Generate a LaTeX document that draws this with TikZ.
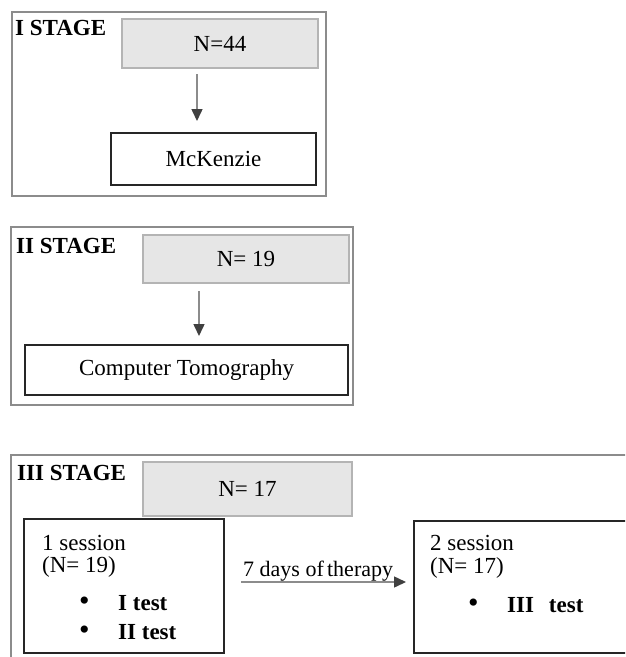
\documentclass[tikz,border=0pt]{standalone}
\usepackage{fontspec}
\setmainfont{Liberation Serif}
\usepackage{tikz}
\usetikzlibrary{arrows.meta}
\definecolor{framegray}{HTML}{8C8C8C}
\definecolor{boxfill}{HTML}{E6E6E6}
\definecolor{boxline}{HTML}{B4B4B4}
\definecolor{headgray}{HTML}{404040}
\newcommand{\txt}{\fontsize{23}{27}\selectfont}
\newcommand{\bul}{{\fontsize{30}{30}\selectfont\textbullet}}
\tikzstyle{frame} = [draw=framegray,line width=2pt,inner sep=0pt]
\tikzstyle{nbox} = [draw=boxline,fill=boxfill,line width=2pt,inner sep=0pt]
\tikzstyle{wbox} = [draw=black!85,line width=2pt,inner sep=0pt]
\tikzstyle{arrow} = [draw=framegray,line width=1.5pt,-{Triangle[length=12pt,width=11pt,color=headgray]}]
\tikzstyle{stage} = [anchor=base west,inner sep=0pt,font=\txt\bfseries]
\tikzstyle{line} = [anchor=base west,inner sep=0pt]

\begin{document}
\begin{tikzpicture}[x=1pt,y=-1pt,font=\txt]
            \useasboundingbox (0,0) rectangle (625,657);
            \clip (0,0) rectangle (625,657);
            \fill[white] (0,0) rectangle (625,657);
 % stage I
            \node[frame,minimum width=314pt,minimum height=184pt] (f1) at (169,104) {};
            \node[stage] (st1) at (15,35) {I STAGE};
            \node[nbox,minimum width=196pt,minimum height=49pt] (n44) at (220,43.5) {N=44};
            \node[wbox,minimum width=205pt,minimum height=52pt] (mck) at (213.5,159) {McKenzie};
            \coordinate (a1) at (197,0);
            \draw[arrow,shorten <=5pt,shorten >=11pt] (a1 |- n44.south) -- (a1 |- mck.north);
 % stage II
            \node[frame,minimum width=342pt,minimum height=178pt] (f2) at (182,316) {};
            \node[stage] (st2) at (16,253) {II STAGE};
            \node[nbox,minimum width=206pt,minimum height=48pt] (n19) at (246,259) {N= 19};
            \node[wbox,minimum width=323pt,minimum height=50pt] (ct) at (186.5,370) {Computer Tomography};
            \coordinate (a2) at (199,0);
            \draw[arrow,shorten <=7pt,shorten >=8pt] (a2 |- n19.south) -- (a2 |- ct.north);
 % stage III
            \node[frame,minimum width=634pt,minimum height=225pt] (f3) at (328,567.5) {};
            \node[stage] (st3) at (17,480) {III STAGE};
            \node[nbox,minimum width=209pt,minimum height=54pt] (n17) at (247.5,489) {N= 17};
            \node[wbox,minimum width=200pt,minimum height=134pt] (s1) at (124,586) {};
            \node[wbox,minimum width=231pt,minimum height=132pt] (s2) at (529.5,587) {};
            \node[line] (s1a) at (42,550) {1 session};
            \node[line] (s1b) at (42,572) {(N= 19)};
            \node[line] (s1c) at (79,610) {\bul};
            \node[line] (s1d) at (118,610) {\textbf{I test}};
            \node[line] (s1e) at (79,639) {\bul};
            \node[line] (s1f) at (118,639) {\textbf{II test}};
            \node[line] (s2a) at (430,550) {2 session};
            \node[line] (s2b) at (430,573) {(N= 17)};
            \node[line] (s2c) at (468,612) {\bul};
            \node[line] (s2d) at (507,612) {\textbf{III\hspace{0.65em}test}};
            \coordinate (a3) at (0,582);
            \draw[arrow,shorten <=16pt,shorten >=7pt] (s1.east |- a3) -- (s2.west |- a3);
            \node[line,font=\fontsize{22}{26}\selectfont] (days) at (243,576) {7 days of\hspace{-0.1em} therapy};
        \end{tikzpicture}
\end{document}
